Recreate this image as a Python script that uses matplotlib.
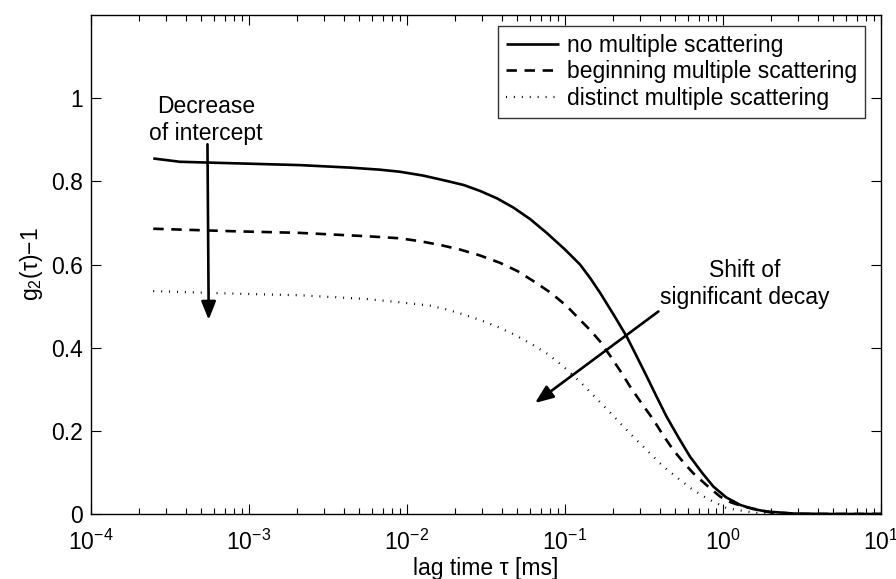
import matplotlib
matplotlib.use("Agg")
import matplotlib.pyplot as plt
import numpy as np

plt.rcParams['font.family'] = ['Liberation Sans', 'DejaVu Sans']
plt.rcParams['mathtext.fontset'] = 'custom'
plt.rcParams['mathtext.rm'] = 'Liberation Sans'
plt.rcParams['mathtext.it'] = 'Liberation Sans:italic'
plt.rcParams['mathtext.bf'] = 'Liberation Sans:bold'
plt.rcParams['lines.scale_dashes'] = False

# ---- data (lag time given as log10(tau / ms)) ----
logtau_none = [-3.606, -3.437, -3.057, -2.677, -2.361, -2.171, -2.044, -1.9, -1.749, -1.64,
               -1.538, -1.43, -1.327, -1.22, -1.116, -1.0, -0.905, -0.84, -0.778, -0.69,
               -0.610, -0.546, -0.483, -0.42, -0.357, -0.28, -0.209, -0.13, -0.061, 0.02,
               0.108, 0.19, 0.276, 0.45, 0.7, 1.0]
g_none = [0.855, 0.847, 0.843, 0.839, 0.833, 0.828, 0.823, 0.814, 0.801, 0.791,
          0.777, 0.759, 0.737, 0.709, 0.676, 0.636, 0.600, 0.567, 0.532, 0.478,
          0.427, 0.379, 0.331, 0.282, 0.234, 0.183, 0.138, 0.098, 0.066, 0.040,
          0.022, 0.012, 0.006, 0.001, 0.0, 0.0]

logtau_begin = [-3.606, -3.10, -2.677, -2.255, -2.044, -1.918, -1.79, -1.665, -1.54, -1.411,
                -1.30, -1.200, -1.09, -0.989, -0.905, -0.84, -0.778, -0.715, -0.65, -0.589,
                -0.515, -0.441, -0.38, -0.315, -0.25, -0.188, -0.10, -0.019, 0.05, 0.129,
                0.30, 0.5, 1.0]
g_begin = [0.686, 0.680, 0.676, 0.668, 0.663, 0.656, 0.647, 0.636, 0.622, 0.604,
           0.584, 0.560, 0.532, 0.500, 0.467, 0.442, 0.415, 0.381, 0.344, 0.307,
           0.266, 0.227, 0.190, 0.154, 0.124, 0.098, 0.068, 0.042, 0.028, 0.018,
           0.004, 0.0, 0.0]

logtau_dist = [-3.606, -3.10, -2.677, -2.255, -2.044, -1.854, -1.75, -1.644, -1.54, -1.432,
               -1.33, -1.222, -1.11, -1.011, -0.905, -0.799, -0.694, -0.59, -0.483, -0.38,
               -0.272, -0.19, -0.103, 0.023, 0.2, 0.4, 1.0]
g_dist = [0.536, 0.530, 0.526, 0.517, 0.509, 0.501, 0.492, 0.480, 0.467, 0.451,
          0.433, 0.411, 0.385, 0.355, 0.318, 0.277, 0.236, 0.194, 0.154, 0.115,
          0.082, 0.058, 0.038, 0.014, 0.003, 0.0, 0.0]

labels = ['no multiple scattering', 'beginning multiple scattering',
          'distinct multiple scattering']
ytick_vals = [0, 0.2, 0.4, 0.6, 0.8, 1]
ytick_labels = ['0', '0.2', '0.4', '0.6', '0.8', '1']

# annotation arrows (data coords): (start, end)
arrow1 = ((5.46e-4, 0.889), (5.56e-4, 0.467))
arrow2 = ((0.390, 0.487), (0.0646, 0.267))
text1 = 'Decrease\nof intercept'
text1_pos = (5.35e-4, 0.948)
text2 = 'Shift of\nsignificant decay'
text2_pos = (1.38, 0.553)

FS = 16.5

# ---- figure ----
fig = plt.figure(figsize=(8.96, 5.79), dpi=100)
ax = fig.add_axes([91/896, 65/579, 790/896, 499/579])

lw = 1.9
ax.plot(10 ** np.array(logtau_none), g_none, color='black', lw=lw,
        solid_capstyle='butt', solid_joinstyle='round', label=labels[0])
ax.plot(10 ** np.array(logtau_begin), g_begin, color='black', lw=lw, dashes=(7.5, 5.5),
        dash_capstyle='butt', label=labels[1])
ax.plot(10 ** np.array(logtau_dist), g_dist, color='black', lw=1.6, dashes=(0.7, 5.0),
        dash_capstyle='butt', label=labels[2])

ax.set_xscale('log')
ax.set_xlim(1e-4, 10)
ax.set_ylim(0, 1.2)
ax.set_yticks(ytick_vals)
ax.set_yticklabels(ytick_labels)

ax.tick_params(which='both', direction='in', top=True, right=True, width=0.8,
               labelsize=FS)
ax.tick_params(which='major', length=7)
ax.tick_params(which='minor', length=4)
ax.tick_params(axis='x', which='major', pad=11)
ax.tick_params(axis='y', which='major', pad=6)
for sp in ax.spines.values():
    sp.set_linewidth(1.0)

ax.set_xlabel('lag time τ [ms]', fontsize=FS, labelpad=2)
ax.set_ylabel('g$_2$(τ)−1', fontsize=FS, labelpad=4)

leg = ax.legend(loc='upper right', bbox_to_anchor=(0.980, 0.978), borderaxespad=0,
                fontsize=FS, frameon=True, fancybox=False, handlelength=2.3,
                handletextpad=0.35, borderpad=0.35, labelspacing=0.15)
leg.get_frame().set_edgecolor('black')
leg.get_frame().set_linewidth(1.0)

arrowprops = dict(arrowstyle='-|>,head_length=0.55,head_width=0.22', color='black',
                  lw=1.9, mutation_scale=20, shrinkA=0, shrinkB=0)
ax.annotate('', xy=arrow1[1], xytext=arrow1[0], arrowprops=arrowprops)
ax.annotate('', xy=arrow2[1], xytext=arrow2[0], arrowprops=arrowprops)
ax.text(text1_pos[0], text1_pos[1], text1, ha='center', va='center', fontsize=FS,
        linespacing=1.2)
ax.text(text2_pos[0], text2_pos[1], text2, ha='center', va='center', fontsize=FS,
        linespacing=1.2)

fig.savefig('out.png', dpi=100)
